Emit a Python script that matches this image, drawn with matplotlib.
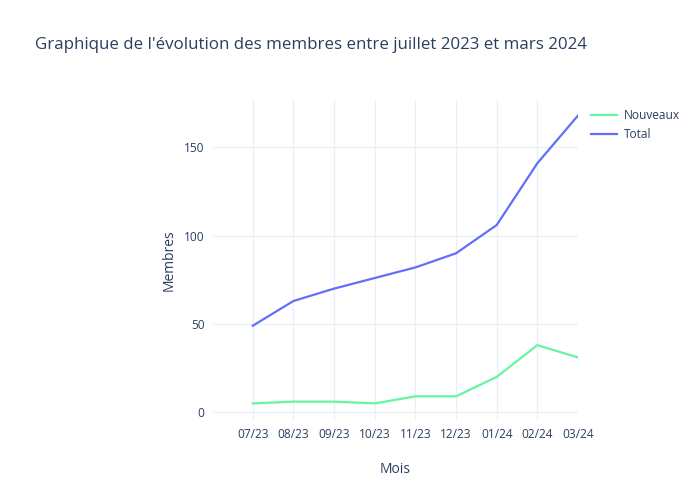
import matplotlib.pyplot as plt
from matplotlib.lines import Line2D

# Données
mois = ['07/23', '08/23', '09/23', '10/23', '11/23', '12/23', '01/24', '02/24', '03/24']
nouveaux = [5, 6, 6, 5, 9, 9, 20, 38, 31]
total = [49, 63, 70, 76, 82, 90, 106, 141, 168]

plt.rcParams['font.family'] = ['Open Sans', 'DejaVu Sans']
texte = '#2a3f5f'
grille = '#ebf0f8'

fig = plt.figure(figsize=(7, 5), dpi=100)
W, H = 700, 500
ax = fig.add_axes([213 / W, 1 - 420 / H, (578 - 213) / W, 320 / H])

x = list(range(len(mois)))
ax.plot(x, nouveaux, color='#66F5A0', lw=1.6, label='Nouveaux', solid_joinstyle='round')
ax.plot(x, total, color='#636EFA', lw=1.6, label='Total', solid_joinstyle='round')

ax.set_xlim(-0.98, 8)
ax.set_ylim(-4.4, 176.8)
ax.set_xticks(x)
ax.set_xticklabels(mois)
ax.set_yticks([0, 50, 100, 150])
ax.grid(True, color=grille, lw=1)
ax.set_axisbelow(True)
for s in ax.spines.values():
    s.set_visible(False)
ax.tick_params(length=0, colors=texte, labelsize=8.6, pad=6)

ax.set_xlabel('Mois', color=texte, fontsize=10, labelpad=15)
ax.set_ylabel('Membres', color=texte, fontsize=10, labelpad=5)

fig.text(35 / W, 1 - 45 / H, "Graphique de l'évolution des membres entre juillet 2023 et mars 2024",
         color=texte, fontsize=12.2, va='center', ha='left')

fig.legend(handles=[Line2D([], [], color='#66F5A0', lw=1.6), Line2D([], [], color='#636EFA', lw=1.6)],
           labels=['Nouveaux', 'Total'], loc='upper left', bbox_to_anchor=(586 / W, 1 - 104 / H),
           frameon=False, fontsize=8.6, labelcolor=texte, handlelength=2.2,
           handletextpad=0.6, labelspacing=0.5, borderaxespad=0)

fig.savefig('out.png', dpi=100)
